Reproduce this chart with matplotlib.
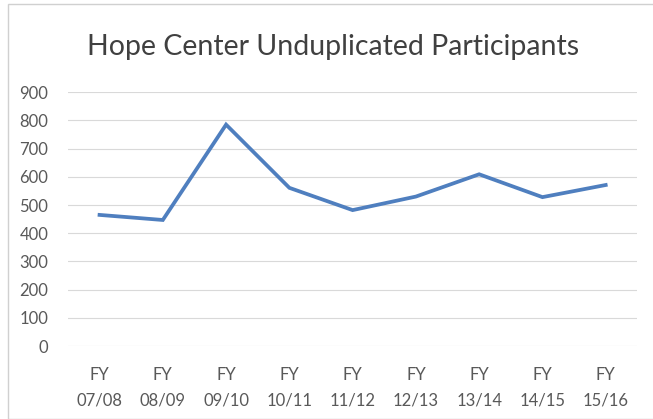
import numpy as np
import matplotlib
matplotlib.use('Agg')
import matplotlib.pyplot as plt
from matplotlib.patches import Rectangle

plt.rcParams['font.family'] = ['Lato', 'DejaVu Sans']

# data
years = ['07/08', '08/09', '09/10', '10/11', '11/12', '12/13', '13/14', '14/15', '15/16']
participants = [465, 447, 785, 561, 482, 530, 609, 528, 571]
yticks = list(range(0, 1000, 100))

labels = ['FY\n' + y for y in years]
x = np.arange(len(years))

fig = plt.figure(figsize=(6.53, 4.19), dpi=100)
ax = fig.add_axes([0.104, 0.174, 0.872, 0.606])

# chart frame
fig.patches.append(Rectangle((0.012, 0.0), 0.99, 0.99, transform=fig.transFigure,
                             fill=False, edgecolor='#d0d0d0', lw=1.0))

ax.plot(x, participants, '-', color='#4f7fbf', lw=2.7, solid_joinstyle='miter')

ax.set_xlim(-0.5, len(years) - 0.5)
ax.set_ylim(0, 900)
ax.set_yticks(yticks)
ax.set_xticks(x)
ax.set_xticklabels(labels, linespacing=1.75)
ax.yaxis.grid(True, color='#d9d9d9', lw=0.8)
ax.set_axisbelow(True)
for s in ax.spines.values():
    s.set_visible(False)
ax.tick_params(axis='both', length=0, colors='#595959', labelsize=12)
ax.tick_params(axis='x', pad=15)
ax.tick_params(axis='y', pad=14)
for t in ax.get_yticklabels():
    t.set_horizontalalignment('right')

fig.text(0.51, 0.887, 'Hope Center Unduplicated Participants', ha='center', va='center',
         fontsize=20.5, color='#404040')

fig.savefig('out.png', dpi=100)
